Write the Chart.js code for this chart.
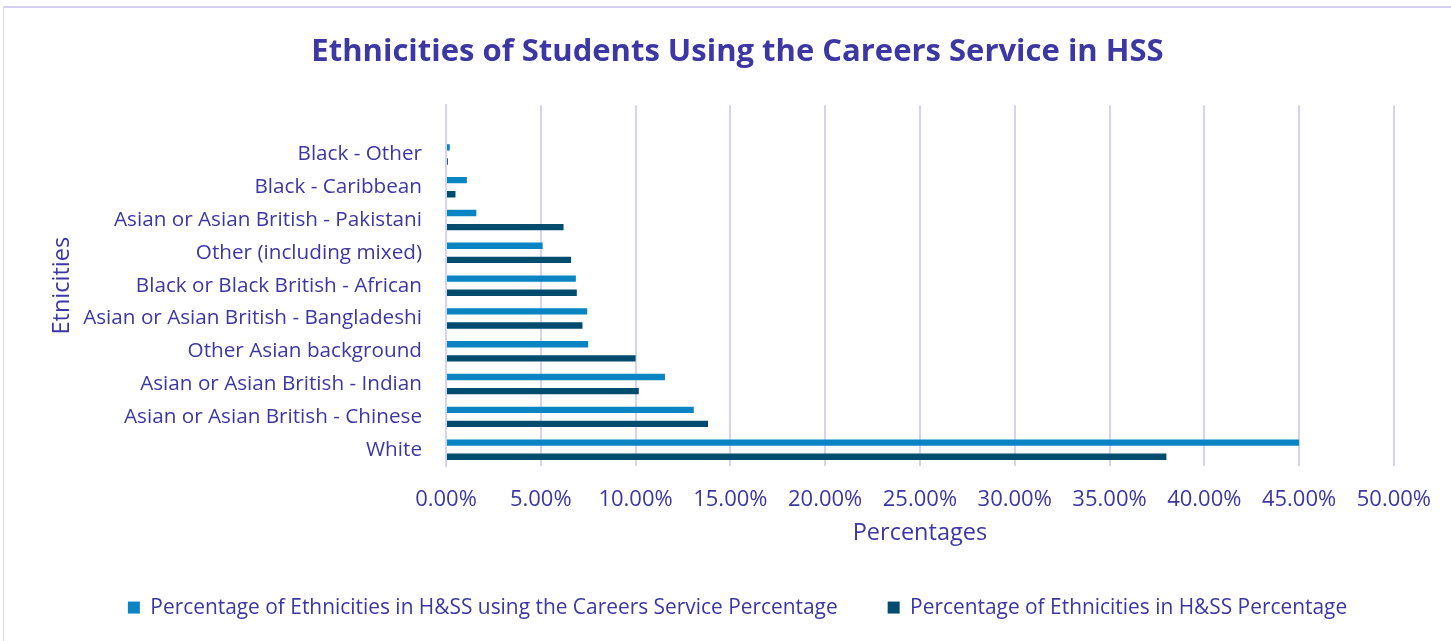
<!DOCTYPE html>
<html>
<head>
<meta charset="utf-8">
<script src="https://cdn.jsdelivr.net/npm/chart.js@4"></script>
<style>
  html, body { margin: 0; padding: 0; background: #fff; }
  #wrap { position: absolute; left: 0; top: 0; width: 1451px; height: 641px; }
  #frame { position: absolute; left: 3px; top: 6px; right: 0; bottom: 0; border-top: 2px solid #D3CFF0; border-left: 1px solid #D9D9D9; pointer-events: none; }
</style>
</head>
<body>
<div id="wrap">
  <canvas id="chart" width="1451" height="641"></canvas>
  <div id="frame"></div>
</div>
<script>
// chart data, top to bottom (first entry is the empty slot above the bars)
var categories = ['', 'Black - Other', 'Black - Caribbean', 'Asian or Asian British - Pakistani',
  'Other (including mixed)', 'Black or Black British - African', 'Asian or Asian British - Bangladeshi',
  'Other Asian background', 'Asian or Asian British - Indian', 'Asian or Asian British - Chinese', 'White'];
var careersValues = [null, 0.2, 1.1, 1.6, 5.1, 6.85, 7.45, 7.5, 11.55, 13.07, 45.0];
var hssValues = [null, 0.1, 0.5, 6.2, 6.6, 6.9, 7.2, 10.0, 10.17, 13.82, 38.0];
var seriesNames = ['Percentage of Ethnicities in H&SS using the Careers Service Percentage',
  'Percentage of Ethnicities in H&SS Percentage'];
var xTicks = [0, 5, 10, 15, 20, 25, 30, 35, 40, 45, 50];

var textColor = '#3C37A3';
var gridColor = '#D6D2F2';
var font = 'Open Sans';

document.addEventListener('DOMContentLoaded', function () {
    var ctx = document.getElementById('chart').getContext('2d');

    new Chart(ctx, {
        type: 'bar',
        data: {
            labels: categories,
            datasets: [{
                label: seriesNames[0],
                data: careersValues,
                backgroundColor: '#0A84C2'
            }, {
                label: seriesNames[1],
                data: hssValues,
                backgroundColor: '#004C6F'
            }]
        },
        options: {
            indexAxis: 'y',
            responsive: false,
            animation: false,
            layout: { padding: { left: 24, right: 0, top: 0, bottom: 13 } },
            datasets: { bar: { categoryPercentage: 0.86, barPercentage: 0.45 } },
            plugins: {
                title: {
                    display: true,
                    text: 'Ethnicities of Students Using the Careers Service in HSS',
                    color: textColor,
                    font: { family: font, size: 31, weight: 'bold' },
                    padding: { top: 34, bottom: 34 }
                },
                legend: {
                    position: 'bottom',
                    labels: {
                        color: textColor,
                        font: { family: font, size: 20.9 },
                        boxWidth: 12,
                        boxHeight: 12,
                        padding: 50
                    }
                },
                tooltip: { enabled: false }
            },
            scales: {
                x: {
                    min: 0,
                    max: 50,
                    afterBuildTicks: function (scale) {
                        scale.ticks = xTicks.map(v => ({ value: v }));
                    },
                    afterFit: function (scale) { scale.height = 81; },
                    grid: { color: gridColor, lineWidth: 2, drawTicks: false },
                    border: { display: false },
                    ticks: {
                        color: textColor,
                        font: { family: font, size: 22 },
                        padding: 20,
                        callback: function (v) { return v.toFixed(2) + '%'; }
                    },
                    title: {
                        display: true,
                        text: 'Percentages',
                        color: textColor,
                        font: { family: font, size: 23.5 },
                        padding: { top: -8, bottom: 0 }
                    }
                },
                y: {
                    afterFit: function (scale) { scale.width = 422; },
                    grid: { display: false },
                    border: { display: true, color: gridColor, width: 2 },
                    ticks: {
                        color: textColor,
                        font: { family: font, size: 20.7 },
                        padding: 16,
                        autoSkip: false
                    },
                    title: {
                        display: true,
                        text: 'Etnicities',
                        color: textColor,
                        font: { family: font, size: 23.5 },
                        padding: { top: 24, bottom: 0 }
                    }
                },
                // empty right-hand spacer so the plot ends where the original does
                yRight: {
                    type: 'category',
                    position: 'right',
                    afterFit: function (scale) { scale.width = 56; },
                    grid: { display: false },
                    border: { display: false },
                    ticks: { display: false }
                }
            }
        }
    });
});
</script>
</body>
</html>
